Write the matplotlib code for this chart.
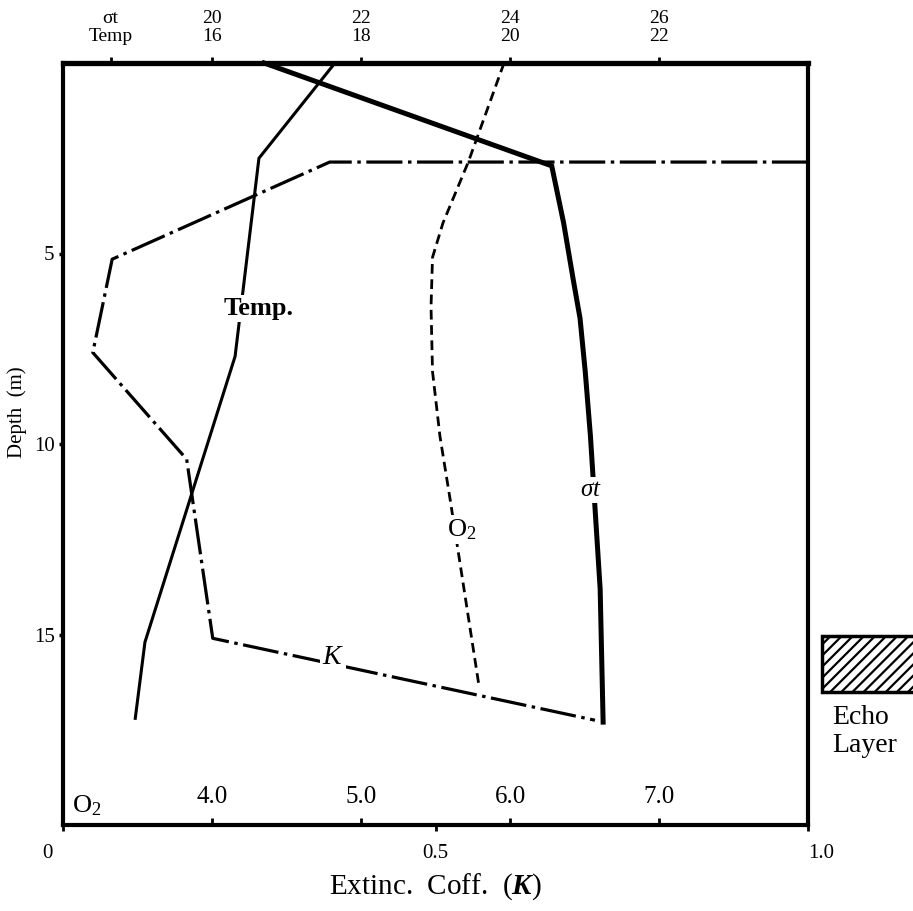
import matplotlib
matplotlib.use('Agg')
import matplotlib.pyplot as plt
import matplotlib.transforms as mtransforms
from matplotlib.patches import Rectangle

plt.rcParams['font.family'] = ['Liberation Serif', 'DejaVu Serif']
plt.rcParams['mathtext.fontset'] = 'custom'
plt.rcParams['mathtext.rm'] = 'Liberation Serif'
plt.rcParams['mathtext.it'] = 'Liberation Serif:italic'
plt.rcParams['mathtext.bf'] = 'Liberation Serif:bold:italic'
plt.rcParams['lines.scale_dashes'] = False
plt.rcParams['hatch.linewidth'] = 1.6

# ---------------- data (native units) ----------------
sigma_depth = [0.0, 2.7, 4.2, 5.7, 6.7, 8.1, 9.8, 13.8, 17.3]
sigma_t = [20.70, 24.56, 24.72, 24.85, 24.94, 25.01, 25.08, 25.21, 25.25]

temp_depth = [0.0, 2.5, 7.7, 15.2, 17.2]
temp = [17.65, 16.63, 16.31, 15.10, 14.97]

o2_depth = [0.0, 2.6, 4.2, 5.1, 6.4, 8.1, 9.8, 11.5, 16.3]
o2 = [5.96, 5.72, 5.55, 5.48, 5.47, 5.48, 5.53, 5.60, 5.79]

k_depth = [2.6, 2.6, 5.15, 7.6, 10.4, 15.1, 17.25]
k_vals = [1.0, 0.358, 0.066, 0.040, 0.166, 0.201, 0.714]

echo_layer = (15.05, 16.5)   # depth range (m)

k_ticks = [0.0, 0.5, 1.0]
k_ticklabels = ['0', '0.5', '1.0']
depth_ticks = [5, 10, 15]
o2_ticks = [4.0, 5.0, 6.0, 7.0]
o2_ticklabels = ['4.0', '5.0', '6.0', '7.0']
sigma_ticks = [18.64, 20, 22, 24, 26]
top_ticklabels = ['σt\nTemp', '20\n16', '22\n18', '24\n20', '26\n22']

# ---------------- figure ----------------
W, H = 913, 911
fig = plt.figure(figsize=(W / 100, H / 100), dpi=100)
L, R, T, B = 63, 808, 63, 825
ax = fig.add_axes([L / W, 1 - B / H, (R - L) / W, (B - T) / H])
ax.set_xlim(0, 1.0)
ax.set_ylim(20, 0)

for side, lw in [('top', 3.8), ('bottom', 3.0), ('left', 3.0), ('right', 3.0)]:
    ax.spines[side].set_linewidth(lw)

ax.set_yticks(depth_ticks)
ax.set_yticklabels([str(d) for d in depth_ticks], fontsize=15)
ax.tick_params(axis='y', direction='out', length=3, width=2.5, pad=3)
ax.set_xticks(k_ticks)
ax.set_xticklabels(k_ticklabels, fontsize=15)
ax.tick_params(axis='x', direction='out', length=4, width=2, pad=10)
xl = ax.get_xticklabels()
xl[0].set_ha('right')
xl[0].set_transform(xl[0].get_transform() + mtransforms.ScaledTranslation(-10 / 100, 0, fig.dpi_scale_trans))
xl[-1].set_transform(xl[-1].get_transform() + mtransforms.ScaledTranslation(13 / 100, 0, fig.dpi_scale_trans))
ax.set_ylabel('Depth  (m)', fontsize=15)
ax.yaxis.set_label_coords(-0.048, 0.542)
ax.set_xlabel('Extinc.  Coff.  $(\\mathbf{K})$', fontsize=21, labelpad=6)

# sigma-t axis (top)
ax_s = ax.twiny()
ax_s.set_xlim(18, 28)
ax_s.set_xticks(sigma_ticks)
ax_s.set_xticklabels(top_ticklabels, fontsize=14, linespacing=1.05)
ax_s.tick_params(axis='x', direction='out', length=4, width=2, pad=9)
for s in ax_s.spines.values():
    s.set_visible(False)

# temperature axis (shares top labels)
ax_t = ax.twiny()
ax_t.set_xlim(14, 24)
ax_t.set_xticks([])
for s in ax_t.spines.values():
    s.set_visible(False)

# oxygen axis (inside bottom)
ax_o = ax.twiny()
ax_o.set_xlim(3, 8)
ax_o.xaxis.set_ticks_position('bottom')
ax_o.xaxis.set_label_position('bottom')
ax_o.set_xticks(o2_ticks)
ax_o.set_xticklabels(o2_ticklabels, fontsize=18)
ax_o.tick_params(axis='x', direction='in', length=5, width=2, pad=-28)
for s in ax_o.spines.values():
    s.set_visible(False)

# ---------------- curves ----------------
ax_s.plot(sigma_t, sigma_depth, color='black', lw=3.6, solid_joinstyle='miter', clip_on=False)
ax_t.plot(temp, temp_depth, color='black', lw=2.2, clip_on=False)
ax_o.plot(o2, o2_depth, color='black', lw=2.0, linestyle=(0, (7, 4)), clip_on=False)
ax_o.plot([ax_o.get_xlim()[0] + (ax_o.get_xlim()[1] - ax_o.get_xlim()[0]) * k for k in k_vals],
          k_depth, color='black', lw=2.3, linestyle=(0, (26, 4, 2.5, 4)))

# ---------------- labels on curves ----------------
bb = dict(facecolor='white', edgecolor='none', pad=1.5)
ax_o.text(0.262, 6.45, 'Temp.', transform=ax.transData, fontsize=19, fontweight='bold',
          ha='center', va='center', bbox=bb, zorder=10)
ax_o.text(0.535, 12.25, 'O$_2$', transform=ax.transData, fontsize=19, ha='center', va='center', bbox=bb, zorder=10)
ax_o.text(0.708, 11.2, '$\\sigma t$', transform=ax.transData, fontsize=18, ha='center', va='center', bbox=bb, zorder=10)
ax_o.text(0.362, 15.6, '$K$', transform=ax.transData, fontsize=20, ha='center', va='center', bbox=bb, zorder=10)
ax_o.text(0.012, 19.5, 'O$_2$', transform=ax.transData, fontsize=19, ha='left', va='center', zorder=10)

# ---------------- echo layer ----------------
rect = Rectangle((1.019, echo_layer[0]), 0.2, echo_layer[1] - echo_layer[0],
                 transform=ax.transData, facecolor='white', edgecolor='black',
                 hatch='///', lw=2.5, clip_on=False)
ax_o.add_patch(rect)
fig.text(832 / W, 1 - 718 / H, 'Echo', fontsize=20, ha='left', va='center')
fig.text(832 / W, 1 - 746 / H, 'Layer', fontsize=20, ha='left', va='center')

fig.savefig('out.png', dpi=100)
